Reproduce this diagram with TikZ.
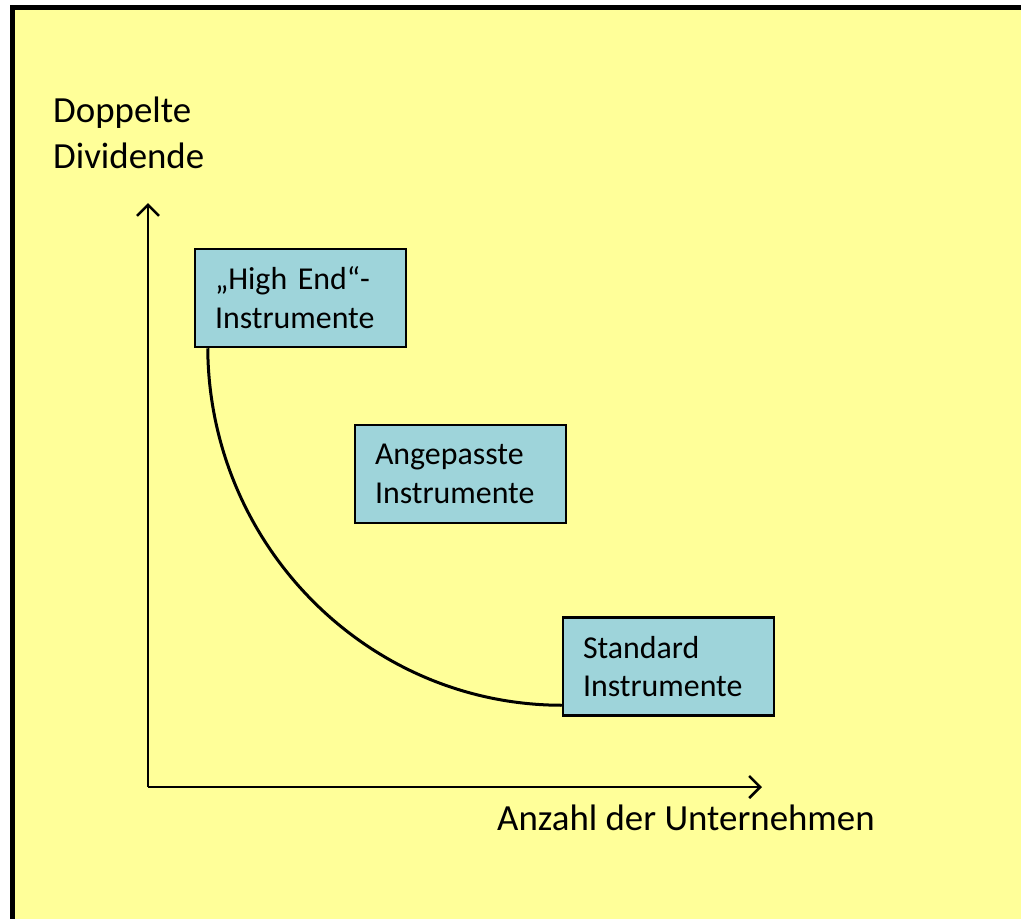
\documentclass[tikz,border=0pt]{standalone}
\usepackage{fontspec}
\setmainfont{Carlito}
\usetikzlibrary{arrows.meta}
\definecolor{padyellow}{RGB}{255,255,153}
\definecolor{instrblue}{RGB}{158,212,218}

\begin{document}
\begin{tikzpicture}[x=1bp,y=-1bp]
\tikzset{ >={Straight Barb[length=11bp,width=22bp]},
  instr/.style={draw=black, line width=2.5bp, fill=instrblue, inner sep=0pt,
    minimum width=211bp, minimum height=98bp, text width=171bp, align=left,
    font=\fontsize{32}{39}\selectfont},
  axis/.style={->, line width=2.5bp},
  axislabel/.style={inner sep=0pt, align=left, font=\fontsize{37}{46}\selectfont},
}

\useasboundingbox (0,0) rectangle (1021,919);
\fill [padyellow] (12.5,7.5) rectangle (1021,919);
\draw [line width=5bp] (12.5,919) -- (12.5,7.5) -- (1021,7.5);

%\draw [lightgray, dashed](0,0) grid[step=50] (1021,919);

\coordinate (origin) at (148,787);
\coordinate (ytip)   at (148,203);
\coordinate (xtip)   at (762,787);

\draw [axis] (origin) -- (ytip);
\draw [axis] (origin) -- (xtip);

\node [axislabel, anchor=base west] (ylabel) at (53,168) {Doppelte\\Dividende};
\node [axislabel, anchor=base west] (xlabel) at (497,830) {Anzahl der Unternehmen};

\node [instr] (highend)   at (300.5,298)   {„High End“-\\Instrumente};
\node [instr] (angepasst) at (460.5,474)   {Angepasste\\Instrumente};
\node [instr] (standard)  at (668.5,666.5) {Standard\\Instrumente};

\draw [line width=3bp] ([xshift=14bp]highend.south west)
  .. controls (209,545) and (367,705) .. ([yshift=11.5bp]standard.south west);

\end{tikzpicture}
\end{document}
